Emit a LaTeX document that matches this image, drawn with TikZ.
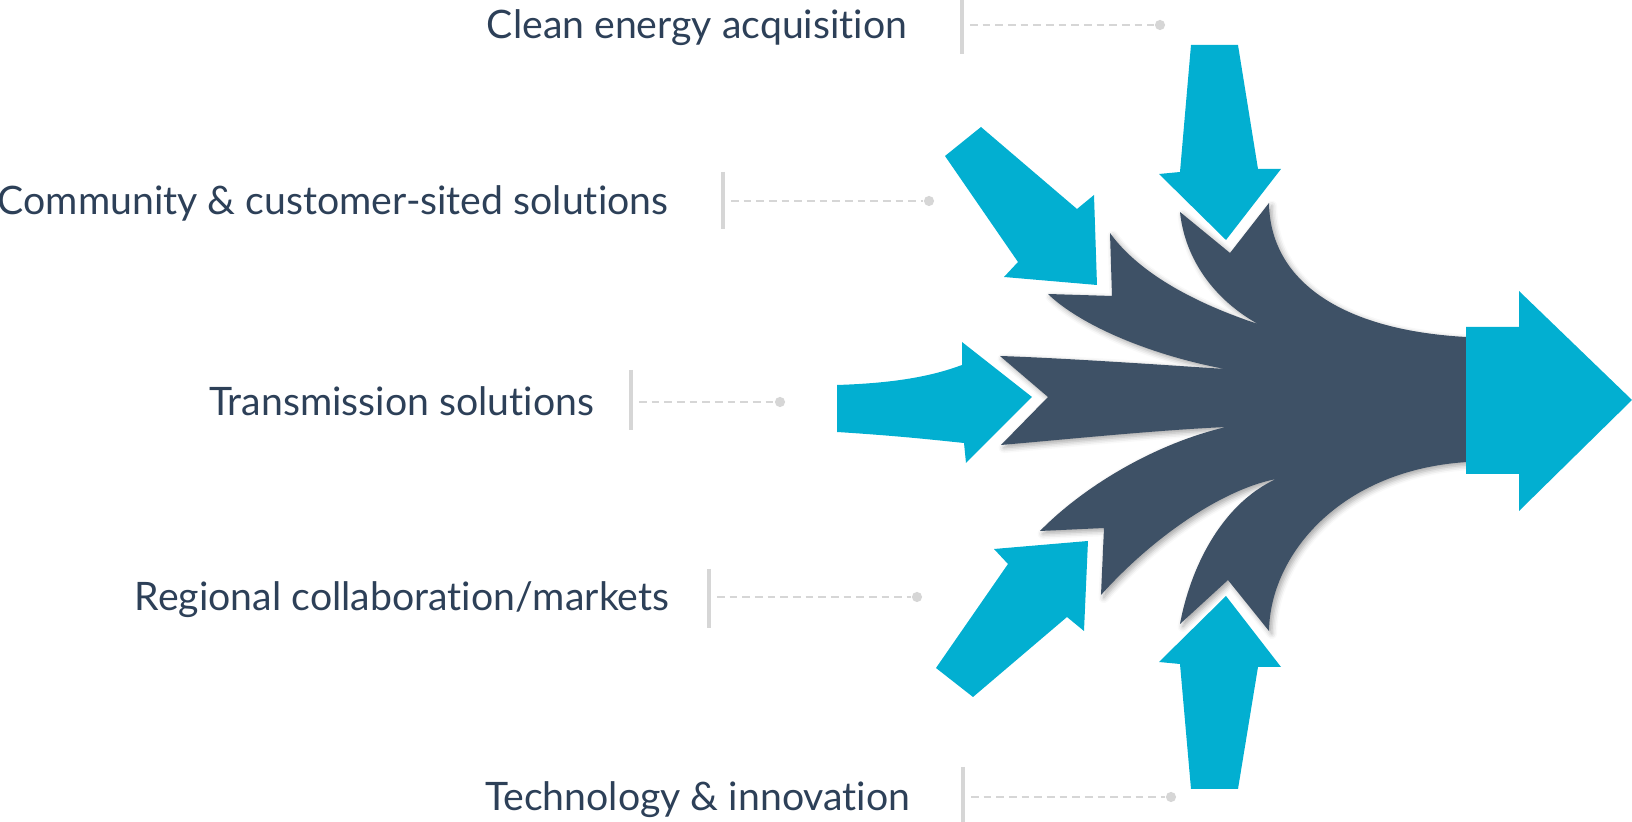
\documentclass[tikz,border=0pt]{standalone}
\usepackage{fontspec}
\setmainfont{Lato}[Ligatures=NoCommon]
\usepackage{tikz}
\usetikzlibrary{arrows.meta, positioning, shadows.blur}
\definecolor{flowcyan}{HTML}{02AFD1}
\definecolor{flowdark}{HTML}{3E5166}
\definecolor{labeltext}{HTML}{2D4058}
\definecolor{leadgrey}{HTML}{D6D6D6}
\tikzset{>=stealth}

\begin{document}
\begin{tikzpicture}[x=0.01cm, y=-0.01cm,
    lbl/.style={anchor=base east, text=labeltext, inner sep=0pt,
      font=\fontsize{11.15}{13}\selectfont},
    tick/.style={leadgrey, line width=1.1pt},
    leader/.style={leadgrey, line width=0.55pt, dash pattern=on 2.2pt off 1.4pt},
    dot/.style={circle, fill=leadgrey, inner sep=0pt, minimum size=2.9pt},
    inflow/.style={fill=flowcyan},
    hub/.style={fill=flowdark, blur shadow={shadow xshift=0.8pt,
      shadow yshift=-0.8pt, shadow blur radius=1.5pt, shadow opacity=35}}]
  \useasboundingbox (0,0) rectangle (1632,822);

  % Labels with their tick and dashed leader
  \foreach \nm/\txt/\tx/\ly/\bx/\btop/\bbot/\dx in {
      clean/Clean energy acquisition/908/25/962/0/54/1160,
      community/Community \& customer-sited solutions/669/201/723/172/229/929,
      trans/Transmission solutions/595/402/631/370/430/780,
      regional/Regional collaboration\slash markets/670/597/709/569/628/917,
      tech/Technology \& innovation/911/797/963/767/822/1171} {
    \node[lbl] (\nm) at (\tx,\ly+14) {\txt};
    \draw[tick] (\bx,\btop) -- (\bx,\bbot);
    \coordinate (\nm-lead) at (\bx+8,\ly);
    \node[dot] (\nm-dot) at (\dx,\ly) {};
    \draw[leader] (\nm-lead) -- (\nm-dot);
  }

  % Dark hub with five prongs
  \fill[hub] (1480,337) -- (1466,337)
    .. controls (1340,330) and (1270,280) .. (1269,203)
    -- (1230,253) -- (1180,212)
    .. controls (1185,260) and (1215,300) .. (1258,324)
    .. controls (1200,305) and (1140,275) .. (1110,233)
    -- (1112,296) -- (1048,294)
    .. controls (1080,325) and (1150,355) .. (1225,369)
    .. controls (1150,364) and (1060,358) .. (1000,356)
    -- (1048,397) -- (1001,445)
    .. controls (1080,438) and (1160,430) .. (1226,427)
    .. controls (1150,445) and (1080,490) .. (1040,531)
    -- (1104,528) -- (1101,595)
    .. controls (1150,540) and (1220,490) .. (1276,479)
    .. controls (1220,505) and (1190,570) .. (1180,624)
    -- (1228,580) -- (1269,631)
    .. controls (1270,555) and (1340,470) .. (1467,462)
    -- (1480,462) -- cycle;

  % Incoming arrows
  \fill[inflow] (1191,45) -- (1238,45) -- (1258,169) -- (1281,169)
    -- (1226,240) -- (1159,174) -- (1180,172) -- cycle;
  \fill[inflow] (945,156) -- (981,127) -- (1077,209) -- (1094,195)
    -- (1097,285) -- (1004,277) -- (1018,262) -- cycle;
  \fill[inflow] (837,385) .. controls (900,383) and (935,375) .. (962,365)
    -- (962,342) -- (1032,397) -- (966,463) -- (964,443)
    .. controls (935,440) and (900,436) .. (837,432) -- cycle;
  \fill[inflow] (936,668) -- (1008,564) -- (994,549) -- (1088,541)
    -- (1084,631) -- (1067,617) -- (973,697) -- cycle;
  \fill[inflow] (1191,789) -- (1238,789) -- (1258,667) -- (1281,667)
    -- (1226,596) -- (1159,662) -- (1180,664) -- cycle;

  % Outgoing arrow
  \fill[inflow] (1466,327) -- (1519,327) -- (1519,291) -- (1632,400)
    -- (1519,511) -- (1519,474) -- (1466,474) -- cycle;
\end{tikzpicture}
\end{document}
